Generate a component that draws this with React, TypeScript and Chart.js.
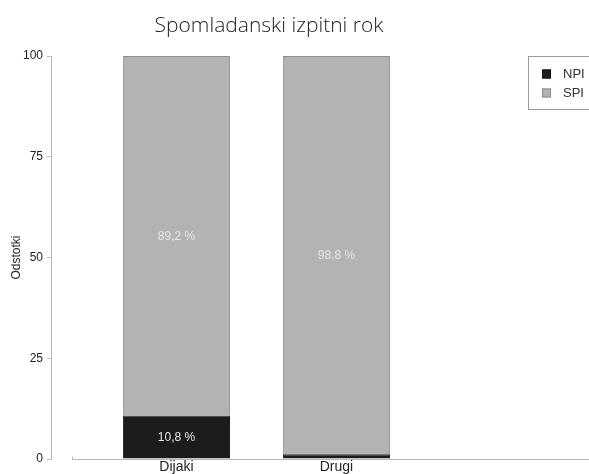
import React, { useEffect, useRef } from "react";
import { Chart, registerables } from "chart.js";

Chart.register(...registerables);

const categories = ["Dijaki", "Drugi"];
const npiValues = [10.8, 1.2];
const spiValues = [89.2, 98.8];
const seriesLabels = ["NPI", "SPI"];
const yTicks = [0, 25, 50, 75, 100];
const titleText = "Spomladanski izpitni rok";
const yTitle = "Odstotki";

const fmt = (v: number) => v.toFixed(1).replace(".", ",") + " %";

const AXIS_COLOR = "#b9b9b9";

const decorPlugin = {
  id: "decor",
  afterDraw(chart: any) {
    const { ctx, chartArea } = chart;
    ctx.save();
    // title
    ctx.fillStyle = "#222";
    ctx.font = '300 21px "Open Sans"';
    ctx.textAlign = "center";
    ctx.textBaseline = "middle";
    ctx.fillText(titleText, 269, 26);

    // x axis line (offset from y axis)
    const y0 = Math.round(chartArea.bottom) + 0.5;
    const xStart = chartArea.left + 21;
    ctx.strokeStyle = AXIS_COLOR;
    ctx.lineWidth = 1;
    ctx.beginPath();
    ctx.moveTo(xStart + 0.5, y0 - 3);
    ctx.lineTo(xStart + 0.5, y0);
    ctx.lineTo(chartArea.right, y0);
    ctx.stroke();

    // bar value labels
    ctx.font = '12px "Liberation Sans", Arial, sans-serif';
    ctx.textAlign = "center";
    ctx.textBaseline = "middle";
    chart.data.datasets.forEach((ds: any, di: number) => {
      const meta = chart.getDatasetMeta(di);
      meta.data.forEach((bar: any, i: number) => {
        const v = ds.data[i].y;
        if (v < 5) return;
        const { x, y, base } = bar.getProps(["x", "y", "base"], true);
        ctx.fillStyle = "#e6e6e6";
        ctx.fillText(fmt(v), x, (y + base) / 2 + 1);
      });
    });

    // legend box
    const lx = 528.5;
    const ly = 56.5;
    ctx.strokeStyle = "#9a9a9a";
    ctx.strokeRect(lx, ly, 90, 53);
    chart.data.datasets.forEach((ds: any, di: number) => {
      const cy = 74 + di * 19;
      ctx.fillStyle = ds.backgroundColor;
      ctx.fillRect(542, cy - 4.5, 9, 9);
      ctx.strokeStyle = di === 0 ? "#111" : "#8a8a8a";
      ctx.strokeRect(542.5, cy - 4, 8, 8);
      ctx.fillStyle = "#333";
      ctx.textAlign = "left";
      ctx.font = '13px "Liberation Sans", Arial, sans-serif';
      ctx.fillText(ds.label, 563, cy);
    });
    ctx.restore();
  },
};

export default function App() {
  const ref = useRef<HTMLCanvasElement | null>(null);

  useEffect(() => {
    document.body.style.margin = "0";
    if (!ref.current) return;
    const chart = new Chart(ref.current, {
      type: "bar",
      data: {
        datasets: [
          {
            label: seriesLabels[0],
            data: categories.map((_, i) => ({ x: i, y: npiValues[i] })),
            backgroundColor: "#1c1c1c",
            borderColor: "#111111",
            borderWidth: 1,
            barPercentage: 0.67,
            categoryPercentage: 1,
          },
          {
            label: seriesLabels[1],
            data: categories.map((_, i) => ({ x: i, y: spiValues[i] })),
            backgroundColor: "#b3b3b3",
            borderColor: "#8f8f8f",
            borderWidth: 1,
            barPercentage: 0.67,
            categoryPercentage: 1,
          },
        ],
      },
      options: {
        responsive: false,
        animation: false,
        devicePixelRatio: 1,
        layout: { padding: { top: 56, right: 0, left: 0, bottom: 0 } },
        plugins: {
          legend: { display: false },
          title: { display: false },
          tooltip: { enabled: false },
        },
        scales: {
          x: {
            type: "linear",
            stacked: true,
            offset: false,
            min: -0.784,
            max: 2.578,
            border: { display: false },
            grid: { display: false, drawTicks: false, offset: false },
            afterBuildTicks: (scale: any) => {
              scale.ticks = categories.map((_, i) => ({ value: i }));
            },
            afterFit: (scale: any) => {
              scale.height = 15;
            },
            ticks: {
              autoSkip: false,
              maxRotation: 0,
              padding: 0,
              color: "#222",
              font: { family: '"Liberation Sans", Arial, sans-serif', size: 14 },
              callback: (v: any) => categories[v] ?? "",
            },
          },
          y: {
            stacked: true,
            min: 0,
            max: 100,
            border: { display: true, color: AXIS_COLOR },
            grid: {
              drawOnChartArea: false,
              drawTicks: true,
              tickLength: 4,
              color: AXIS_COLOR,
            },
            afterBuildTicks: (scale: any) => {
              scale.ticks = yTicks.map((v) => ({ value: v }));
            },
            afterFit: (scale: any) => {
              scale.width = 51;
            },
            ticks: {
              padding: 4,
              color: "#222",
              font: { family: '"Liberation Sans", Arial, sans-serif', size: 12 },
            },
            title: {
              display: true,
              text: yTitle,
              color: "#222",
              padding: { top: 9, bottom: 0 },
              font: { family: '"Liberation Sans", Arial, sans-serif', size: 12 },
            },
          },
        },
      },
      plugins: [decorPlugin],
    } as any);
    return () => chart.destroy();
  }, []);

  return (
    <div style={{ width: 589, height: 474 }}>
      <canvas ref={ref} width={589} height={474} />
    </div>
  );
}
